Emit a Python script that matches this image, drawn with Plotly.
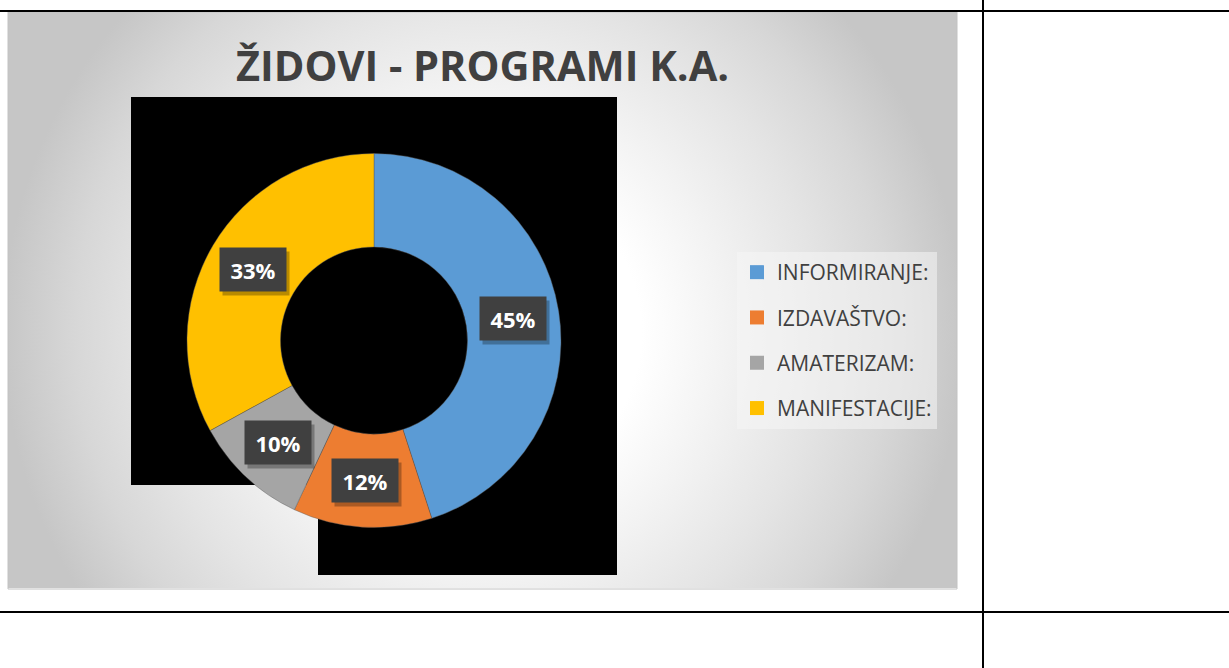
import base64
import math
import plotly.graph_objects as go

# ---------------- data ----------------
categories = ["INFORMIRANJE:", "IZDAVAŠTVO:", "AMATERIZAM:", "MANIFESTACIJE:"]
values = [45, 12, 10, 33]
colors = ["#5B9BD5", "#ED7D31", "#A5A5A5", "#FFC000"]
title_text = "ŽIDOVI - PROGRAMI K.A."

W, H = 1229, 668


def px(x):
    return x / W


def py(y):
    return 1 - y / H


# ---------------- background gradient (chart area) ----------------
svg = """<svg xmlns="http://www.w3.org/2000/svg" width="949" height="576" viewBox="0 0 949 576" preserveAspectRatio="none">
<defs><radialGradient id="g" gradientUnits="userSpaceOnUse" cx="475" cy="320" r="480">
<stop offset="0" stop-color="#ffffff"/>
<stop offset="0.33" stop-color="#ffffff"/>
<stop offset="0.5" stop-color="#f3f3f3"/>
<stop offset="0.7" stop-color="#e4e4e4"/>
<stop offset="0.85" stop-color="#d7d7d7"/>
<stop offset="1" stop-color="#c6c6c6"/>
</radialGradient></defs>
<rect width="949" height="576" fill="url(#g)"/></svg>"""
svg_uri = "data:image/svg+xml;base64," + base64.b64encode(svg.encode()).decode()

# pie domain
dom_x = [px(187), px(561)]
dom_y = [py(527.5), py(153.5)]
HOLE = 0.5

fig = go.Figure()

fig.add_trace(go.Pie(
    labels=categories,
    values=values,
    marker=dict(colors=colors, line=dict(color="rgba(90,90,90,0.6)", width=0.7)),
    hole=HOLE,
    sort=False,
    direction="clockwise",
    rotation=0,
    textinfo="none",
    hoverinfo="label+percent",
    showlegend=False,
    domain=dict(x=dom_x, y=dom_y),
))

# legend entries via dummy traces (one per category)
for lab, col in zip(categories, colors):
    fig.add_trace(go.Scatter(
        x=[None], y=[None], mode="markers",
        marker=dict(symbol="square", size=14, color=col),
        name=lab, legendgroup=lab, showlegend=True, hoverinfo="skip",
    ))

# ---------------- data labels (computed from values) ----------------
cx = (dom_x[0] + dom_x[1]) / 2 * W
cy = (1 - (dom_y[0] + dom_y[1]) / 2) * H
R = min((dom_x[1] - dom_x[0]) * W, (dom_y[1] - dom_y[0]) * H) / 2
r_lab = R * (1 + HOLE) / 2
total = sum(values)
annotations = []
cum = 0
for v in values:
    ang = (cum + v / 2) / total * 2 * math.pi
    cum += v
    lx = cx + r_lab * math.sin(ang)
    ly = cy - r_lab * math.cos(ang)
    pct = f"{round(v / total * 100)}%"
    # shadow
    annotations.append(dict(
        x=px(lx), y=py(ly), xref="paper", yref="paper", text="",
        showarrow=False, width=64, height=41, bgcolor="rgba(0,0,0,0.28)",
        xshift=3, yshift=-4, xanchor="center", yanchor="middle",
    ))
    annotations.append(dict(
        x=px(lx), y=py(ly), xref="paper", yref="paper", text=pct,
        showarrow=False, width=64, height=41, bgcolor="#404040",
        font=dict(family="Open Sans", size=22, color="white", weight=700),
        xanchor="center", yanchor="middle", align="center", valign="middle",
    ))

shapes = [
    # chart area border / shadow line
    dict(type="rect", xref="paper", yref="paper", x0=px(8), x1=px(957), y0=py(589), y1=py(12),
         line=dict(color="#c2c2c2", width=1), fillcolor="rgba(0,0,0,0)", layer="below"),
    # black rendering blocks
    dict(type="rect", xref="paper", yref="paper", x0=px(131), x1=px(617), y0=py(485), y1=py(97),
         line=dict(width=0), fillcolor="black", layer="below"),
    dict(type="rect", xref="paper", yref="paper", x0=px(318), x1=px(617), y0=py(575), y1=py(97),
         line=dict(width=0), fillcolor="black", layer="below"),
    # document table lines
    dict(type="line", xref="paper", yref="paper", x0=0, x1=1, y0=py(11), y1=py(11),
         line=dict(color="black", width=2), layer="above"),
    dict(type="line", xref="paper", yref="paper", x0=0, x1=1, y0=py(612), y1=py(612),
         line=dict(color="black", width=2), layer="above"),
    dict(type="line", xref="paper", yref="paper", x0=px(983), x1=px(983), y0=0, y1=1,
         line=dict(color="black", width=2), layer="above"),
]

fig.update_layout(
    width=W, height=H,
    margin=dict(l=0, r=0, t=0, b=0),
    paper_bgcolor="white",
    plot_bgcolor="rgba(0,0,0,0)",
    xaxis=dict(visible=False),
    yaxis=dict(visible=False),
    title=dict(
        text=title_text, x=px(482.5), xanchor="center", y=py(66), yanchor="middle",
        font=dict(family="Open Sans", size=41.5, color="#404040", weight=700),
    ),
    legend=dict(
        x=px(737), y=py(252), xanchor="left", yanchor="top",
        bgcolor="rgba(246,246,246,0.55)",
        font=dict(family="Open Sans", size=21, color="#404040"),
        tracegroupgap=15, itemwidth=30, traceorder="grouped",
    ),
    images=[dict(
        source=svg_uri, xref="paper", yref="paper",
        x=px(8), y=py(12), sizex=px(957) - px(8), sizey=py(12) - py(588),
        xanchor="left", yanchor="top", sizing="stretch", layer="below",
    )],
    shapes=shapes,
    annotations=annotations,
    showlegend=True,
)

fig.write_html(
    "out.html",
    config={"displayModeBar": False},
    post_script="document.body.style.margin='0';document.body.style.overflow='hidden';",
)
